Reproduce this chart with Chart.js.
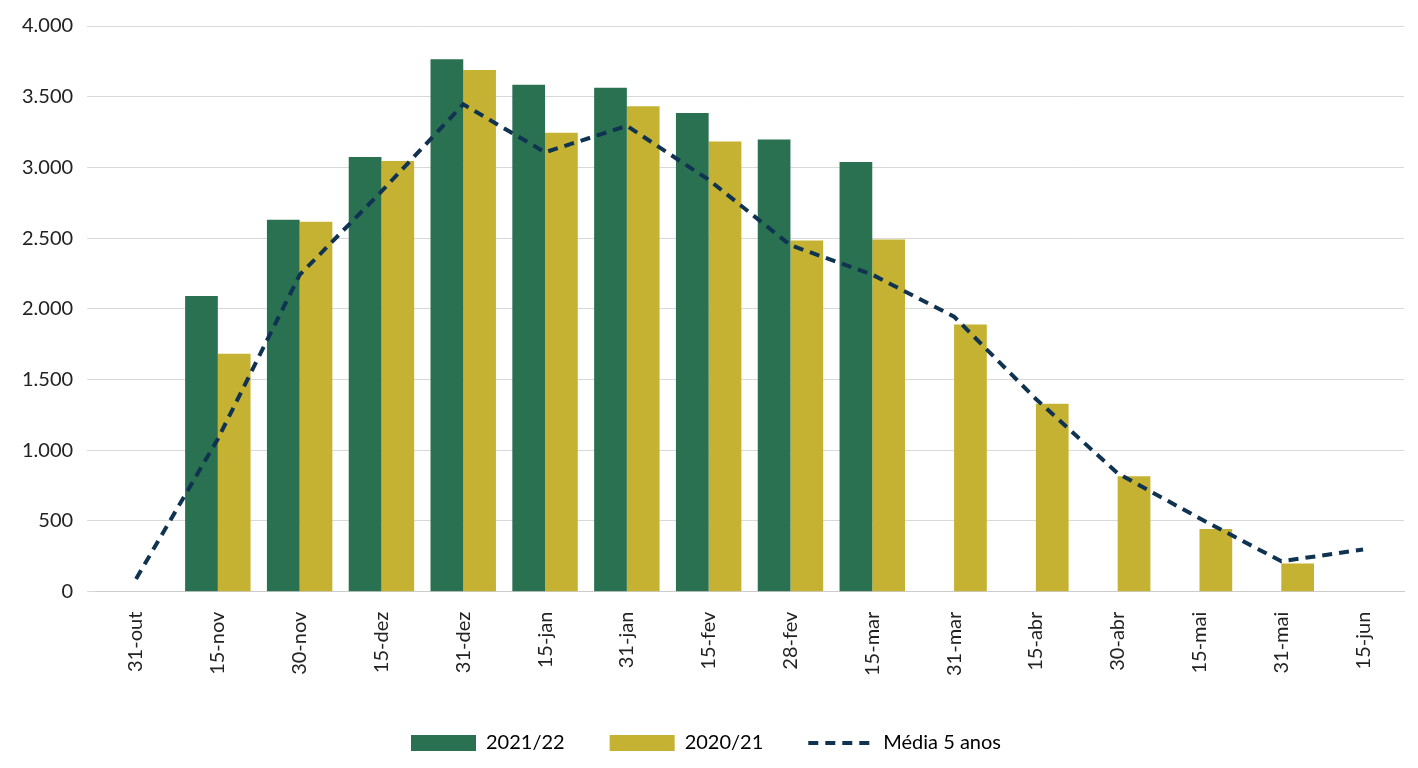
<!DOCTYPE html>
<html><head><meta charset="utf-8">
<script src="https://cdn.jsdelivr.net/npm/chart.js@4/dist/chart.umd.min.js"></script>
<style>html,body{margin:0;background:#fff}#w{width:1418px;height:768px}</style>
</head><body><div id="w"><canvas id="c"></canvas></div>
<script>
const categories=["31-out","15-nov","30-nov","15-dez","31-dez","15-jan","31-jan","15-fev","28-fev","15-mar","31-mar","15-abr","30-abr","15-mai","31-mai","15-jun"];
const s2122=[null,2090,2630,3073,3765,3585,3564,3384,3197,3038,null,null,null,null,null,null];
const s2021=[null,1682,2616,3045,3689,3246,3433,3183,2484,2491,1889,1329,817,443,200,null];
const media=[90,1080,2240,2830,3446,3107,3294,2913,2450,2242,1945,1363,837,519,215,298];
Chart.defaults.font.family="Lato, 'Open Sans', sans-serif";
Chart.defaults.font.size=20;Chart.defaults.color="#222";
new Chart(document.getElementById('c'),{
data:{labels:categories,datasets:[
{type:'line',label:'Média 5 anos',data:media,borderColor:'#0f3350',borderWidth:4,borderDash:[10,7],pointRadius:0,tension:0,fill:false,order:0},
{type:'bar',label:'2021/22',data:s2122,backgroundColor:'#2a7152',categoryPercentage:0.8,barPercentage:1,order:1},
{type:'bar',label:'2020/21',data:s2021,backgroundColor:'#c6b232',categoryPercentage:0.8,barPercentage:1,order:1}]},
options:{responsive:true,maintainAspectRatio:false,animation:false,
layout:{padding:{left:8,right:14,top:10,bottom:5}},
plugins:{legend:{position:'bottom',labels:{usePointStyle:true,pointStyleWidth:65,boxHeight:16,padding:45,
 generateLabels(ch){const d=ch.data.datasets;return [1,2,0].map(i=>({text:d[i].label,fillStyle:i?d[i].backgroundColor:'rgba(0,0,0,0)',strokeStyle:i?d[i].backgroundColor:d[i].borderColor,lineWidth:i?0:4,lineDash:i?[]:[10,7],pointStyle:i?'rect':'line',datasetIndex:i}));}}},tooltip:{enabled:false}},
scales:{x:{grid:{display:false},border:{color:'#ccc'},ticks:{maxRotation:90,minRotation:90,padding:12}},
y:{min:0,max:4000,ticks:{stepSize:500,padding:14,callback:v=>v.toLocaleString('de-DE')},grid:{color:'#d9d9d9'},border:{display:false}}}}});
</script></body></html>
